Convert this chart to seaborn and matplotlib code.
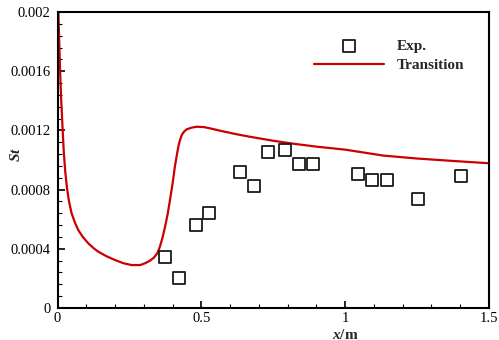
import numpy as np
import pandas as pd
import matplotlib
matplotlib.use("Agg")
import matplotlib.pyplot as plt
from matplotlib.ticker import MultipleLocator
import seaborn as sns

# Experimental Stanton number
exp_x = [0.374, 0.424, 0.481, 0.527, 0.633, 0.683, 0.732, 0.791, 0.839, 0.888,
         1.045, 1.094, 1.144, 1.253, 1.403]
exp_st = [0.000345, 0.000200, 0.000561, 0.000644, 0.000922, 0.000824, 0.001054,
          0.001068, 0.000973, 0.000973, 0.000905, 0.000863, 0.000863, 0.000734,
          0.000892]

# Transition model prediction
trans_x = [0.003, 0.006, 0.009, 0.013, 0.018, 0.022, 0.027, 0.033, 0.040, 0.049,
           0.060, 0.072, 0.088, 0.107, 0.125, 0.142, 0.170, 0.200, 0.230, 0.258,
           0.287, 0.304, 0.320, 0.335, 0.347, 0.356, 0.365, 0.374, 0.383, 0.391,
           0.400, 0.408, 0.415, 0.420, 0.426, 0.432, 0.440, 0.449, 0.465, 0.484,
           0.510, 0.530, 0.565, 0.620, 0.669, 0.750, 0.820, 0.901, 1.000, 1.132,
           1.250, 1.364, 1.500]
trans_st_e4 = [20.0, 18.0, 16.0, 14.0, 12.0, 10.5, 9.2, 8.1, 7.2, 6.4,
               5.8, 5.27, 4.8, 4.37, 4.05, 3.8, 3.5, 3.24, 3.02, 2.90,
               2.90, 3.02, 3.18, 3.40, 3.70, 4.14, 4.75, 5.50, 6.35, 7.30,
               8.40, 9.55, 10.35, 10.9, 11.35, 11.69, 11.92, 12.07, 12.18, 12.25,
               12.22, 12.14, 11.98, 11.75, 11.57, 11.3, 11.1, 10.9, 10.7, 10.3,
               10.1, 9.95, 9.78]

x_ticks = [0, 0.5, 1, 1.5]
x_tick_labels = ["0", "0.5", "1", "1.5"]
y_ticks = [0, 0.0004, 0.0008, 0.0012, 0.0016, 0.002]
y_tick_labels = ["0", "0.0004", "0.0008", "0.0012", "0.0016", "0.002"]

sns.set_style("ticks")
plt.rcParams["font.family"] = ["Liberation Serif", "DejaVu Serif"]
plt.rcParams["mathtext.fontset"] = "custom"
plt.rcParams["mathtext.it"] = "Liberation Serif:italic:bold"
plt.rcParams["mathtext.rm"] = "Liberation Serif:bold"
plt.rcParams["mathtext.bf"] = "Liberation Serif:bold"

exp_df = pd.DataFrame({"x": exp_x, "St": exp_st})
trans_df = pd.DataFrame({"x": trans_x, "St": np.array(trans_st_e4) * 1e-4})

fig = plt.figure(figsize=(4.99, 3.40), dpi=100)
ax = fig.add_axes([57.5 / 499, 32 / 340, 431.5 / 499, 296 / 340])

line_color = "#cc0000"
sns.lineplot(data=trans_df, x="x", y="St", ax=ax, color=line_color, lw=1.6,
             sort=False, estimator=None, label="Transition", zorder=2)
sns.scatterplot(data=exp_df, x="x", y="St", ax=ax, marker="s", s=85,
                facecolor="white", edgecolor="#1a1a1a", linewidth=1.3,
                label="Exp.", zorder=3)

ax.set_xlim(0, 1.5)
ax.set_ylim(0, 0.002)
ax.set_xticks(x_ticks)
ax.set_xticklabels(x_tick_labels)
ax.set_yticks(y_ticks)
ax.set_yticklabels(y_tick_labels)
ax.xaxis.set_minor_locator(MultipleLocator(0.1))
ax.yaxis.set_minor_locator(MultipleLocator(0.00008))
ax.tick_params(which="both", direction="in", top=False, right=False,
               labelsize=10.5, colors="black", width=1.2)
ax.tick_params(which="major", length=5)
ax.tick_params(which="minor", length=3, width=0.8)
ax.tick_params(axis="y", pad=5)
ax.tick_params(axis="x", pad=3)

for side in ["left", "bottom", "top", "right"]:
    ax.spines[side].set_visible(True)
    ax.spines[side].set_color("black")
    ax.spines[side].set_linewidth(1.5)

ax.set_xlabel(r"$x$/m", fontsize=11, fontweight="bold")
ax.xaxis.set_label_coords(0.666, -0.066)
ax.set_ylabel(r"$St$", fontsize=11)
ax.yaxis.set_label_coords(-0.08, 0.52)

handles, labels = ax.get_legend_handles_labels()
order = [labels.index("Exp."), labels.index("Transition")]
ax.legend([handles[i] for i in order], [labels[i] for i in order],
          loc="upper left", bbox_to_anchor=(314 / 499, 1 - 39 / 340),
          bbox_transform=fig.transFigure, frameon=False, borderpad=0,
          borderaxespad=0, handlelength=4.6, handletextpad=0.8,
          labelspacing=0.38, prop={"family": "Liberation Serif", "weight": "bold",
                                   "size": 11})

fig.savefig("out.png", dpi=100)
